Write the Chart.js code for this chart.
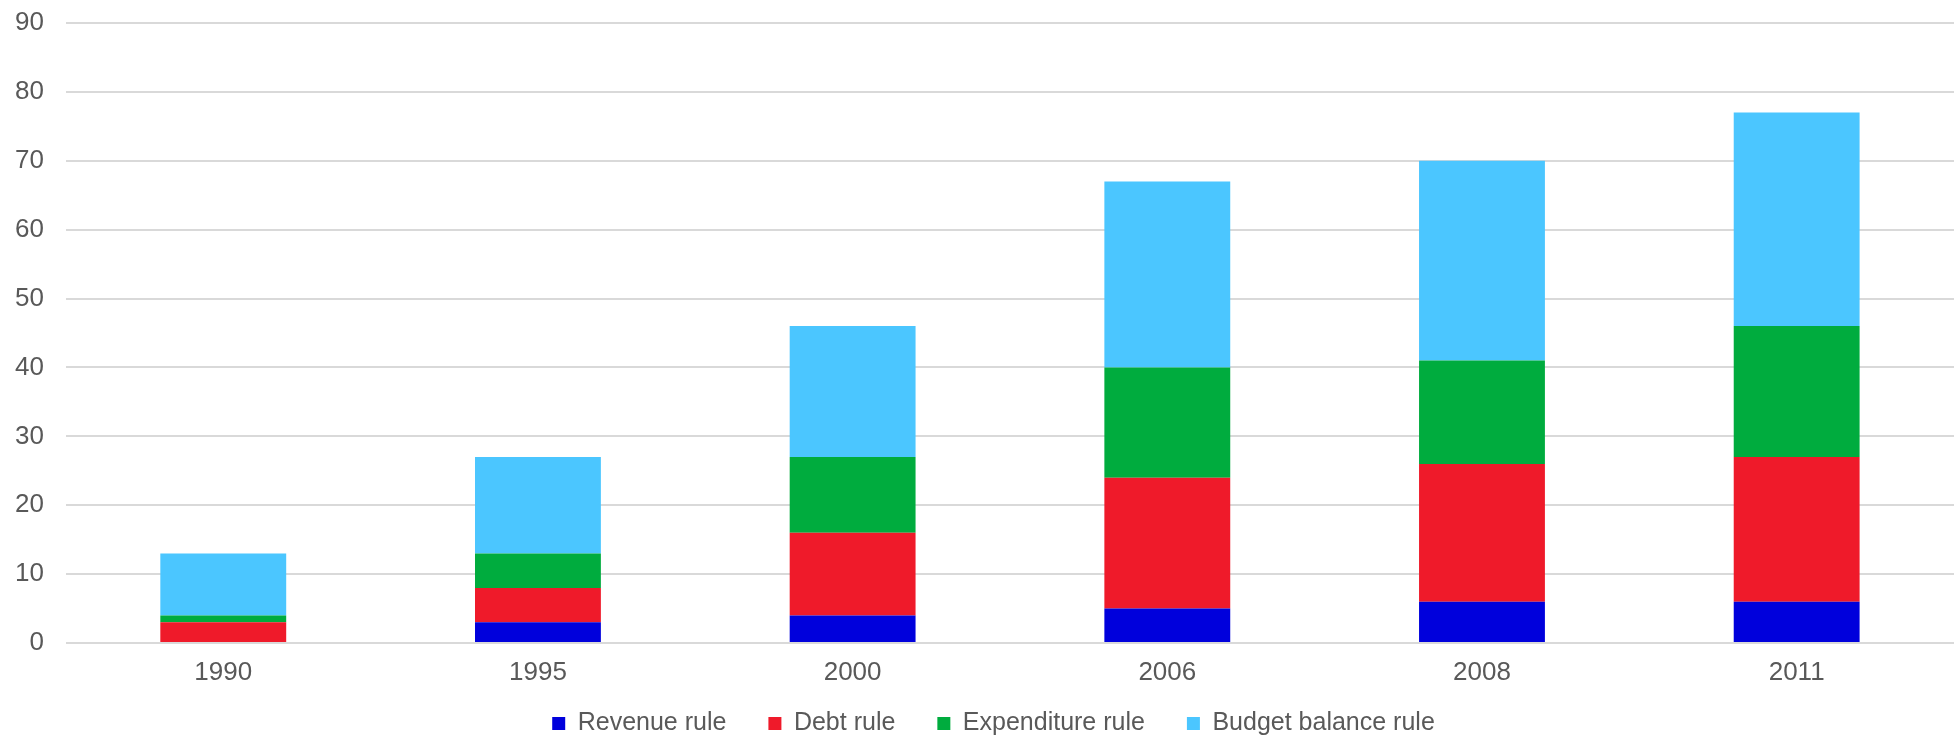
<!DOCTYPE html>
<html>
<head>
<meta charset="utf-8">
<script src="https://cdn.jsdelivr.net/npm/chart.js@4.4.0/dist/chart.umd.min.js"></script>
<style>
  html, body { margin: 0; padding: 0; background: #fff; }
  .container { width: 1959px; height: 739px; position: relative; }
</style>
</head>
<body>
<div class="container"><canvas id="myChart"></canvas></div>
<script>
const years = ["1990", "1995", "2000", "2006", "2008", "2011"];
const revenueRule = [0, 3, 4, 5, 6, 6];
const debtRule = [3, 5, 12, 19, 20, 21];
const expenditureRule = [1, 5, 11, 16, 15, 19];
const budgetBalanceRule = [9, 14, 19, 27, 29, 31];
const yTicks = [0, 10, 20, 30, 40, 50, 60, 70, 80, 90];

const textColor = "#595959";
const family = "'Liberation Sans', Arial, sans-serif";

const ctx = document.getElementById("myChart");

// x labels overlap the legend box, so stop them being clipped to the axis box;
// legend sits a little right of the canvas centre
const labelRoom = {
  id: "labelRoom",
  afterLayout: (chart) => {
    chart.scales.x.bottom = chart.height;
    chart.legend.left += 20;
    chart.legend.right += 20;
  },
};

new Chart(ctx, {
  type: "bar",
  data: {
    labels: years,
    datasets: [
      { label: "Revenue rule", data: revenueRule, backgroundColor: "#0000dc" },
      { label: "Debt rule", data: debtRule, backgroundColor: "#ef1a2a" },
      { label: "Expenditure rule", data: expenditureRule, backgroundColor: "#00ac3e" },
      { label: "Budget balance rule", data: budgetBalanceRule, backgroundColor: "#4bc6ff" },
    ],
  },
  plugins: [labelRoom],
  options: {
    responsive: true,
    maintainAspectRatio: false,
    animation: false,
    layout: { padding: { left: -7, right: 5, top: 23, bottom: -7 } },
    datasets: {
      bar: { barPercentage: 0.4, categoryPercentage: 1, borderWidth: 0 },
    },
    plugins: {
      tooltip: { enabled: false },
      legend: {
        position: "bottom",
        labels: {
          color: textColor,
          font: { family: family, size: 25 },
          boxWidth: 13,
          boxHeight: 13,
          padding: 42,
        },
      },
    },
    scales: {
      x: {
        stacked: true,
        grid: { display: false, drawTicks: false },
        border: { display: false },
        ticks: { color: textColor, font: { family: family, size: 26 }, padding: 14 },
        afterFit: (axis) => {
          axis.height = 26;
        },
      },
      y: {
        stacked: true,
        min: 0,
        max: 90,
        afterBuildTicks: (axis) => {
          axis.ticks = yTicks.map((v) => ({ value: v }));
        },
        afterFit: (axis) => {
          axis.paddingTop = 0;
          axis.paddingBottom = 0;
        },
        grid: { color: "#d9d9d9", lineWidth: 2, drawTicks: false },
        border: { display: false },
        ticks: { color: textColor, font: { family: family, size: 26 }, padding: 22 },
      },
    },
  },
});
</script>
</body>
</html>
